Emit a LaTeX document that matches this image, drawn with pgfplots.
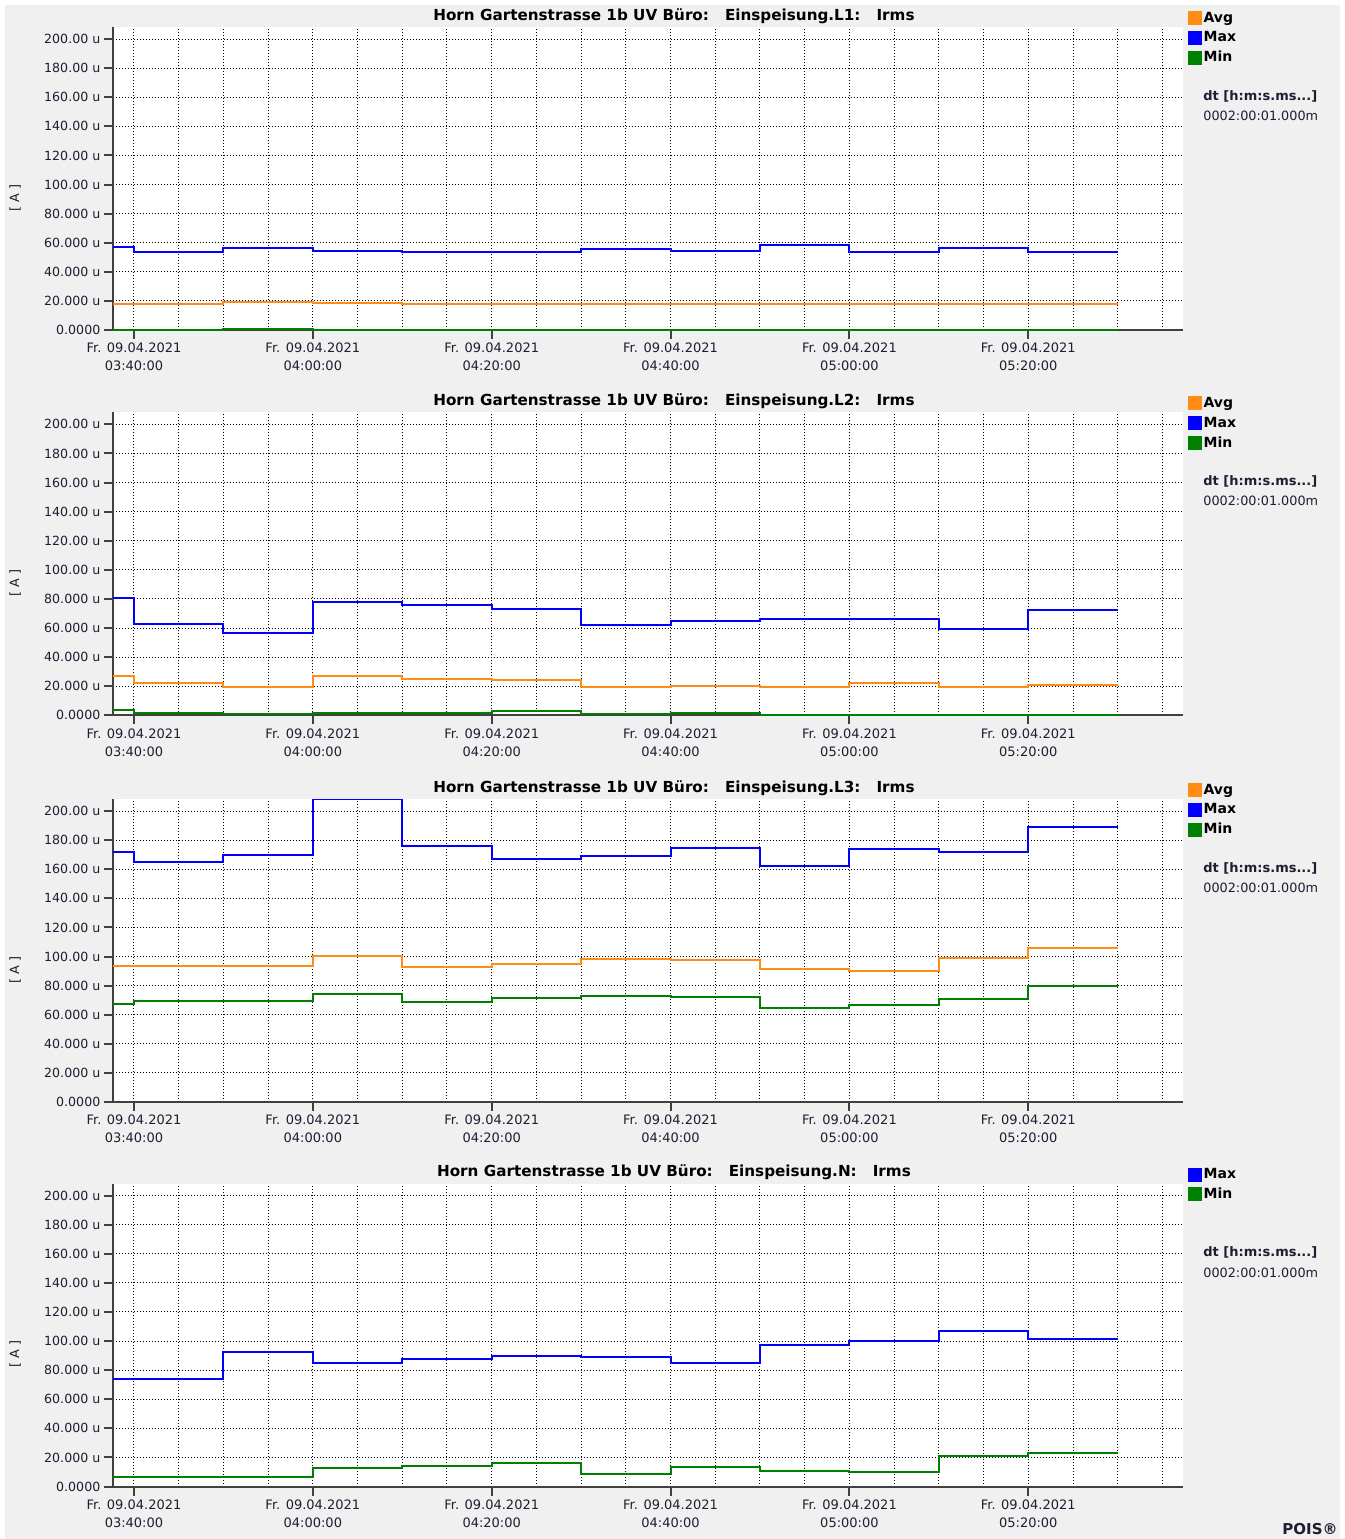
\documentclass[border=0pt]{standalone}
\usepackage{fontspec}
\setmainfont{DejaVu Sans}
\usepackage{pgfplots}
\pgfplotsset{compat=1.18}
\definecolor{cavg}{RGB}{255,140,20}
\definecolor{cmax}{RGB}{0,0,255}
\definecolor{cmin}{RGB}{0,128,0}
\definecolor{bgc}{RGB}{240,240,240}
\definecolor{tl}{RGB}{30,30,50}
\pgfplotsset{
 panel/.style={
  scale only axis, width=535.15pt, height=151.5pt,
  anchor=north west,
  xmin=-2.38, xmax=117.3, ymin=0, ymax=208.3,
  axis x line*=bottom, axis y line*=left,
  axis line style={-, line width=1pt, black!75},
  axis background/.style={fill=white},
  xtick={0,20,...,100},
  xticklabels={{Fr. 09.04.2021\\03:40:00},{Fr. 09.04.2021\\04:00:00},{Fr. 09.04.2021\\04:20:00},{Fr. 09.04.2021\\04:40:00},{Fr. 09.04.2021\\05:00:00},{Fr. 09.04.2021\\05:20:00}},
  minor xtick={5,10,...,115},
  xmajorgrids, xminorgrids, ymajorgrids,
  grid style={black, line width=0.5pt, dash pattern=on 0.5pt off 1pt},
  ytick={0,20,...,200},
  yticklabels={0.0000,20.000 u,40.000 u,60.000 u,80.000 u,100.00 u,120.00 u,140.00 u,160.00 u,180.00 u,200.00 u},
  tick align=outside, major tick length=4.5pt, minor tick length=0pt,
  tick style={line width=1pt, black!75},
  ticklabel style={text=tl},
  xticklabel style={align=center, font=\fontsize{6.5}{9}\selectfont, yshift=1.5pt},
  yticklabel style={inner sep=1.5pt, font=\fontsize{6.3}{9}\selectfont},
  ylabel={[ A ]},
  ylabel style={at={(axis description cs:-0.0913,0.436)}, anchor=center, font=\fontsize{6.4}{8}\selectfont, text=tl},
  title style={at={(0.5244,1)}, anchor=center, yshift=-0.5pt, font=\bfseries\fontsize{7.6}{8}\selectfont},
  legend style={at={(1.0047,1.058)}, anchor=north west, draw=none, fill=none,
    font=\bfseries\fontsize{7}{8}\selectfont, inner sep=0pt, row sep=1.75pt,
    nodes={inner sep=0.6pt, text height=5.5pt, text depth=1.5pt}},
  legend cell align=left,
  legend image code/.code={\fill[#1] (0pt,-3pt) rectangle (6pt,3pt);},
  every axis plot/.append style={const plot, line width=1pt},
 }
}
\newcommand{\dtnodes}[1]{%
  \node[anchor=west, inner sep=0pt, font=\bfseries\fontsize{6.5}{8}\selectfont, text=tl] at ([xshift=10pt,yshift=-34.5pt]#1.north east) {dt [h:m:s.ms...]};
  \node[anchor=west, inner sep=0pt, font=\fontsize{6.4}{8}\selectfont, text=tl] at ([xshift=10pt,yshift=-44.5pt]#1.north east) {0002:00:01.000m};
}
\begin{document}
\begin{tikzpicture}
\useasboundingbox (0,0) rectangle (672.5pt,-769.5pt);
\fill[white] (0,0) rectangle (672.5pt,-769.5pt);
\fill[bgc] (2.5pt,-2.5pt) rectangle (670pt,-769.5pt);

% Panel 1
\begin{axis}[panel, name=p1, at={(56.35pt,-13.5pt)},
  title={Horn Gartenstrasse 1b UV Büro:\hspace{8pt}Einspeisung.L1:\hspace{8pt}Irms}]
\addplot[cavg] coordinates {(-2.38,17.7) (0,17.7) (10,19.4) (20,18.7) (30,17.7) (40,17.6) (50,17.6) (60,17.6) (70,17.6) (80,17.6) (90,17.6) (100,17.6) (110,17.6)};
\addlegendentry{Avg}
\addplot[cmax] coordinates {(-2.38,57.0) (0,53.6) (10,56.1) (20,54.5) (30,53.4) (40,53.4) (50,55.5) (60,54.3) (70,58.2) (80,53.4) (90,56.1) (100,53.4) (110,53.4)};
\addlegendentry{Max}
\addplot[cmin] coordinates {(-2.38,0) (0,0) (10,0.7) (20,0) (30,0) (40,0) (50,0) (60,0) (70,0) (80,0) (90,0) (100,0) (110,0)};
\addlegendentry{Min}
\end{axis}
\dtnodes{p1}

% Panel 2
\begin{axis}[panel, name=p2, at={(56.35pt,-206.15pt)},
  title={Horn Gartenstrasse 1b UV Büro:\hspace{8pt}Einspeisung.L2:\hspace{8pt}Irms}]
\addplot[cavg] coordinates {(-2.38,26.8) (0,22.0) (10,19.3) (20,26.7) (30,25.0) (40,24.1) (50,19.5) (60,20.0) (70,19.5) (80,22.0) (90,19.5) (100,20.9) (110,20.9)};
\addlegendentry{Avg}
\addplot[cmax] coordinates {(-2.38,80.9) (0,62.5) (10,56.8) (20,78.0) (30,75.6) (40,72.9) (50,62.1) (60,64.5) (70,66.2) (80,66.2) (90,59.1) (100,72.6) (110,72.6)};
\addlegendentry{Max}
\addplot[cmin] coordinates {(-2.38,3.7) (0,1.8) (10,0.9) (20,1.8) (30,1.8) (40,2.7) (50,0.7) (60,1.5) (70,0) (80,0.4) (90,0) (100,0) (110,0)};
\addlegendentry{Min}
\end{axis}
\dtnodes{p2}

% Panel 3
\begin{axis}[panel, name=p3, at={(56.35pt,-399.5pt)},
  title={Horn Gartenstrasse 1b UV Büro:\hspace{8pt}Einspeisung.L3:\hspace{8pt}Irms}]
\addplot[cavg] coordinates {(-2.38,93.5) (0,93.5) (10,93.5) (20,100.2) (30,92.7) (40,94.9) (50,98.4) (60,97.3) (70,91.7) (80,90.1) (90,99.3) (100,105.8) (110,105.8)};
\addlegendentry{Avg}
\addplot[cmax] coordinates {(-2.38,171.7) (0,165.0) (10,169.6) (20,208.0) (30,176.2) (40,167.1) (50,168.9) (60,174.3) (70,162.3) (80,174.2) (90,171.7) (100,189.0) (110,189.0)};
\addlegendentry{Max}
\addplot[cmin] coordinates {(-2.38,67.7) (0,69.6) (10,69.6) (20,74.2) (30,68.8) (40,71.7) (50,73.1) (60,72.3) (70,64.8) (80,66.8) (90,70.5) (100,80.0) (110,80.0)};
\addlegendentry{Min}
\end{axis}
\dtnodes{p3}

% Panel 4
\begin{axis}[panel, name=p4, at={(56.35pt,-591.75pt)},
  title={Horn Gartenstrasse 1b UV Büro:\hspace{8pt}Einspeisung.N:\hspace{8pt}Irms}]
\addplot[cmax] coordinates {(-2.38,73.8) (0,73.8) (10,92.4) (20,85.1) (30,87.9) (40,89.7) (50,89.0) (60,85.1) (70,97.2) (80,99.8) (90,107.1) (100,101.6) (110,101.6)};
\addlegendentry{Max}
\addplot[cmin] coordinates {(-2.38,6.5) (0,6.5) (10,6.5) (20,13.0) (30,13.8) (40,15.9) (50,8.3) (60,13.2) (70,11.0) (80,9.9) (90,21.1) (100,23.0) (110,23.0)};
\addlegendentry{Min}
\end{axis}
\dtnodes{p4}

\node[anchor=north, inner sep=0pt, font=\bfseries\fontsize{7.5}{9}\selectfont, text=tl] at (655pt,-761.5pt) {POIS®};
\end{tikzpicture}
\end{document}
